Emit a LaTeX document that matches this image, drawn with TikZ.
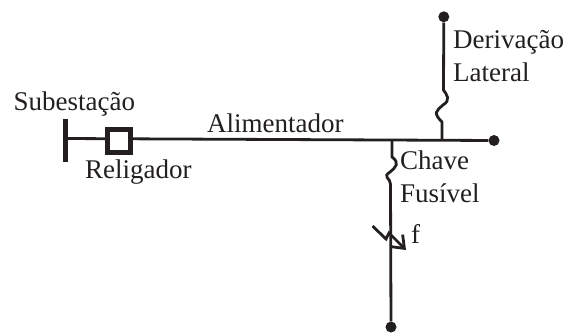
\documentclass[tikz,border=0pt]{standalone}
\usepackage{fontspec}
\setmainfont{Liberation Serif}
\usepackage{tikz}
\usetikzlibrary{arrows.meta}
\definecolor{ink}{HTML}{231F20}
\begin{document}
\begin{tikzpicture}[x=1pt,y=-1pt,
    line/.style={ink,line width=2.8pt},
    dot node/.style={circle,fill=ink,inner sep=0pt,minimum size=11pt},
    label node/.style={ink,inner sep=0pt,anchor=base west,font=\fontsize{27}{29}\selectfont}]
    \useasboundingbox (0,0) rectangle (565,333);

    \coordinate (feed) at (65,138.5);
    \node[dot node](end) at (494,140.5) {};
    \draw[line] (feed) -- (end);

    \node[fill=ink,inner sep=0pt,minimum width=5pt,minimum height=43pt](bar) at (65,140.5) {};
    \node[draw=ink,line width=5pt,fill=white,inner sep=0pt,minimum size=23pt](rel) at (119.3,140.8) {};
    \node[dot node](top) at (443.8,16.8) {};
    \node[dot node](bot) at (391,327) {};
    \coordinate (jd) at (442,139.5);
    \coordinate (jc) at (392,139.5);
    \coordinate (d1) at (442,122);
    \coordinate (d2) at (443.5,90);
    \coordinate (c1) at (392,157);
    \coordinate (c2) at (390.5,184);
    \coordinate (f0) at (372.5,226);
    \coordinate (f1) at (386,239);
    \coordinate (f2) at (389,233);
    \coordinate (f3) at (406,250);

    \draw[line] (jd) -- (d1) .. controls (433,113) and (436,111) .. (443,105)
        .. controls (451,100) and (447,95) .. (d2) -- (top);
    \draw[line] (jc) -- (c1) .. controls (400,163) and (396,167) .. (390,172)
        .. controls (382,177) and (390.5,178) .. (c2) -- (bot);
    \draw[line,-{Straight Barb[length=11pt,width=17pt]}] (f0) -- (f1) -- (f2) -- (f3);

    \node[label node] (sub) at (13.5,110.5) {Subestação};
    \node[label node] (relt) at (85,178.5) {Religador};
    \node[label node] (ali) at (207,132) {Alimentador};
    \node[label node] (der) at (453,48) {Derivação};
    \node[label node] (lat) at (453,81.7) {Lateral};
    \node[label node] (cha) at (400,169) {Chave};
    \node[label node] (fus) at (400,202) {Fusível};
    \node[label node] (f) at (411,243) {f};
\end{tikzpicture}
\end{document}
